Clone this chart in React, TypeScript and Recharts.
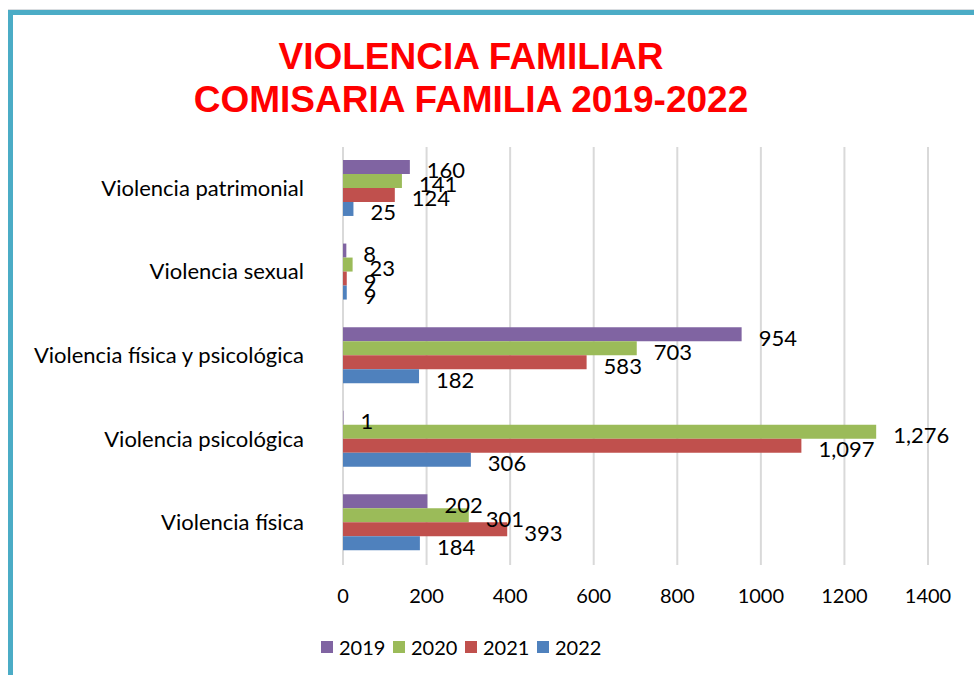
import React from 'react'
import { BarChart, Bar, XAxis, YAxis, CartesianGrid, Legend, LabelList } from 'recharts'

const categories = [
  'Violencia patrimonial',
  'Violencia sexual',
  'Violencia física y psicológica',
  'Violencia psicológica',
  'Violencia física',
]
const years = ['2019', '2020', '2021', '2022']
const values2019 = [160, 8, 954, 1, 202]
const values2020 = [141, 23, 703, 1276, 301]
const values2021 = [124, 9, 583, 1097, 393]
const values2022 = [25, 9, 182, 306, 184]
const xTicks = [0, 200, 400, 600, 800, 1000, 1200, 1400]
const colors = ['#8064a2', '#9bbb59', '#c0504d', '#4f81bd']

const series = [values2019, values2020, values2021, values2022]
const data = categories.map((name, i) => {
  const row: Record<string, string | number> = { name }
  years.forEach((y, k) => (row[y] = series[k][i]))
  return row
})

const FONT = 'Lato, "Noto Sans", sans-serif'

function CategoryTick(props: any) {
  const { x, y, payload } = props
  return (
    <text x={x - 31} y={y + 7} textAnchor="end" fontFamily={FONT} fontSize={22} fill="#000">
      {payload.value}
    </text>
  )
}

function ValueTick(props: any) {
  const { x, y, payload } = props
  return (
    <text x={x} y={y + 30} textAnchor="middle" fontFamily={FONT} fontSize={20} fill="#000">
      {payload.value}
    </text>
  )
}

function BarValue(props: any) {
  const { x, y, width, height, value } = props
  return (
    <text
      x={Number(x) + Number(width) + 17}
      y={Number(y) + Number(height) / 2 + 11.5}
      fontFamily={FONT}
      fontSize={22}
      fill="#000"
    >
      {Number(value).toLocaleString('en-US')}
    </text>
  )
}

function YearLegend() {
  return (
    <div style={{ display: 'flex', paddingLeft: 321, fontFamily: FONT, fontSize: 20, color: '#000' }}>
      {years.map((y, k) => (
        <div key={y} style={{ width: 72, display: 'flex', alignItems: 'center' }}>
          <span style={{ width: 12, height: 12, background: colors[k], display: 'inline-block', marginRight: 6 }} />
          <span>{y}</span>
        </div>
      ))}
    </div>
  )
}

export default function App() {
  return (
    <div style={{ position: 'absolute', left: 0, top: 0, width: 974, height: 675, background: '#fff', overflow: 'hidden' }}>
      <div style={{ position: 'absolute', left: 8, top: 9, width: 966, height: 1, background: '#d9dde0' }} />
      <div
        style={{
          position: 'absolute',
          left: 8,
          top: 10,
          width: 970,
          height: 670,
          borderTop: '5px solid #4bacc6',
          borderLeft: '5px solid #4bacc6',
        }}
      />
      <div
        style={{
          position: 'absolute',
          left: 0,
          top: 35,
          width: 942,
          textAlign: 'center',
          fontFamily: '"Liberation Sans", Arial, sans-serif',
          fontWeight: 'bold',
          fontSize: 37,
          lineHeight: '43px',
          color: '#ff0000',
        }}
      >
        VIOLENCIA FAMILIAR
        <br />
        COMISARIA FAMILIA 2019-2022
      </div>
      <div style={{ position: 'absolute', left: 0, top: 0 }}>
        <BarChart
          width={974}
          height={675}
          data={data}
          layout="vertical"
          margin={{ top: 147, right: 46, bottom: 40, left: 0 }}
          barCategoryGap="15.5%"
          barGap={0}
        >
          <CartesianGrid horizontal={false} stroke="#d9d9d9" strokeWidth={2} />
          <XAxis
            type="number"
            domain={[0, 1400]}
            ticks={xTicks}
            axisLine={false}
            tickLine={false}
            tick={<ValueTick />}
            height={70}
            interval={0}
          />
          <YAxis
            type="category"
            dataKey="name"
            width={343}
            axisLine={false}
            tickLine={false}
            tick={<CategoryTick />}
            interval={0}
          />
          <Legend
            layout="horizontal"
            verticalAlign="middle"
            align="center"
            wrapperStyle={{ position: 'absolute', top: 635, left: 0, width: 974 }}
            content={<YearLegend />}
          />
          {years.map((y, k) => (
            <Bar key={y} dataKey={y} fill={colors[k]} isAnimationActive={false}>
              <LabelList dataKey={y} content={<BarValue />} />
            </Bar>
          ))}
        </BarChart>
      </div>
    </div>
  )
}
